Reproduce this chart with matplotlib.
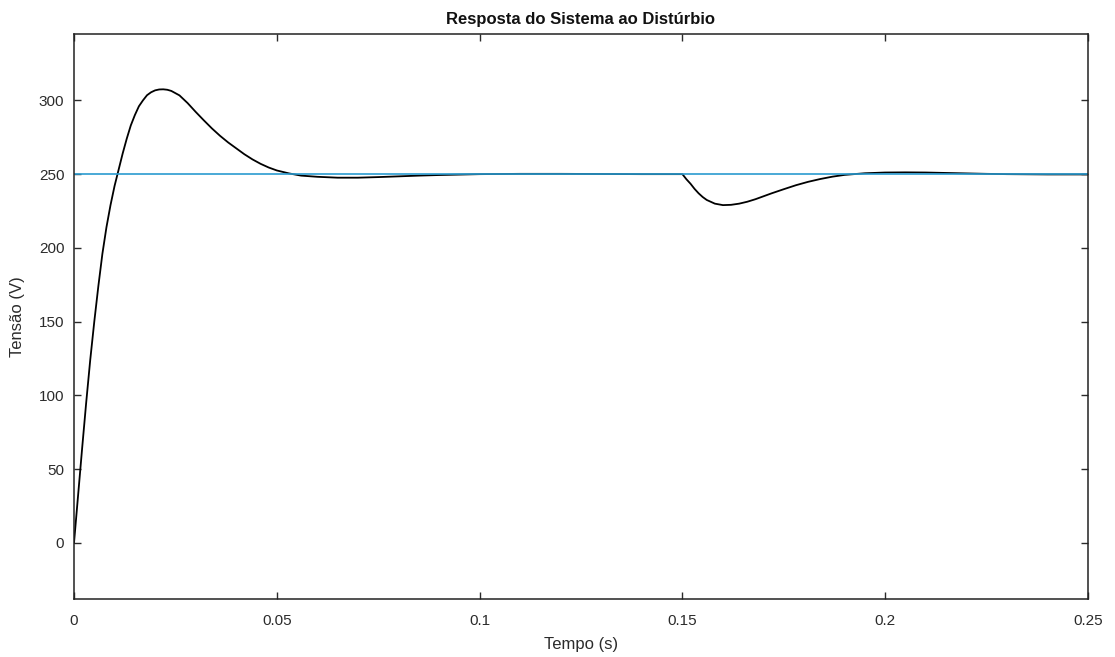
import matplotlib
matplotlib.use("Agg")
import matplotlib.pyplot as plt

plt.rcParams['font.family'] = ['Liberation Sans', 'DejaVu Sans']

# System output voltage (black curve)
tempo = [0.000, 0.001, 0.002, 0.003, 0.004, 0.005, 0.006, 0.007, 0.008, 0.009,
         0.010, 0.011, 0.012, 0.013, 0.014, 0.015, 0.016, 0.017, 0.018, 0.019,
         0.020, 0.021, 0.022, 0.023, 0.024, 0.026, 0.028, 0.030, 0.032, 0.034,
         0.036, 0.038, 0.040, 0.042, 0.044, 0.046, 0.048, 0.050, 0.053, 0.056,
         0.060, 0.065, 0.070, 0.075, 0.080, 0.085, 0.090, 0.095, 0.100, 0.110,
         0.120, 0.130, 0.140, 0.150, 0.151, 0.152, 0.153, 0.154, 0.155, 0.156,
         0.158, 0.160, 0.162, 0.164, 0.166, 0.168, 0.170, 0.172, 0.175, 0.178,
         0.181, 0.184, 0.187, 0.190, 0.195, 0.200, 0.205, 0.210, 0.215, 0.220,
         0.225, 0.230, 0.240, 0.250]
tensao = [0.0, 32.0, 64.0, 95.0, 124.0, 150.0, 174.0, 196.0, 214.0, 229.0,
          242.0, 253.0, 264.0, 274.0, 283.0, 290.0, 296.0, 300.0, 303.5, 305.5,
          306.8, 307.4, 307.5, 307.2, 306.4, 303.4, 298.2, 292.2, 286.5, 281.0,
          276.0, 271.5, 267.5, 263.5, 260.0, 257.0, 254.5, 252.5, 250.5, 249.0,
          248.2, 247.6, 247.6, 248.0, 248.5, 249.0, 249.4, 249.7, 250.0, 250.2,
          250.2, 250.1, 250.0, 250.0, 246.5, 243.5, 240.0, 237.0, 234.5, 232.5,
          230.0, 229.0, 229.2, 230.0, 231.3, 233.0, 235.0, 237.0, 239.8, 242.5,
          244.8, 246.7, 248.3, 249.5, 250.6, 251.1, 251.2, 251.1, 250.8, 250.5,
          250.2, 250.0, 249.8, 249.8]

# Reference voltage (blue line)
tempo_ref = [0.0, 0.25]
tensao_ref = [250.0, 250.0]

xticks = [0, 0.05, 0.1, 0.15, 0.2, 0.25]
xtick_labels = ['0', '0.05', '0.1', '0.15', '0.2', '0.25']
yticks = [0, 50, 100, 150, 200, 250, 300]

fig = plt.figure(figsize=(11.15, 6.57), dpi=100)
ax = fig.add_axes([74 / 1115, 1 - 599 / 657, (1088 - 74) / 1115, (599 - 34) / 657])

ax.plot(tempo, tensao, color='black', linewidth=1.3)
ax.plot(tempo_ref, tensao_ref, color='#2a9bd0', linewidth=1.2)

ax.set_xlim(0, 0.25)
ax.set_ylim(-38, 345)
ax.set_xticks(xticks)
ax.set_xticklabels(xtick_labels)
ax.set_yticks(yticks)

txt = '#2b2b2b'
ax.tick_params(direction='in', length=5, width=1.0, top=True, right=True,
               labelsize=11, colors=txt, pad=7)
ax.tick_params(axis='x', pad=11)
for s in ax.spines.values():
    s.set_linewidth(1.1)
    s.set_color('#222222')

ax.set_title('Resposta do Sistema ao Distúrbio', fontsize=12,
             fontweight='bold', color='#111111', pad=7)
ax.set_xlabel('Tempo (s)', fontsize=12, color=txt, labelpad=6)
ax.set_ylabel('Tensão (V)', fontsize=12, color=txt, labelpad=10)

fig.savefig('out.png', dpi=100)
